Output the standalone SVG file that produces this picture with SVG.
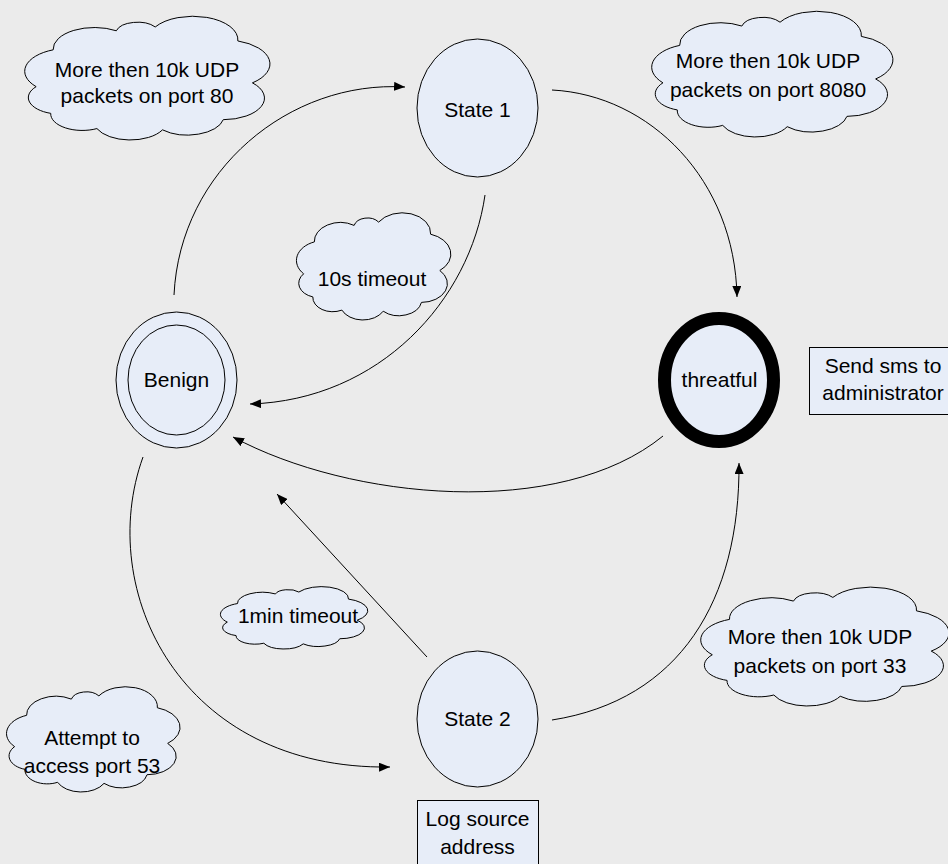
<svg xmlns="http://www.w3.org/2000/svg" xmlns:xlink="http://www.w3.org/1999/xlink" width="948" height="864" viewBox="0 0 948 864">
<style>
.bg{fill:#ebebeb}
.node{fill:#e7edf8;stroke:#000;stroke-width:1}
.thick{fill:#e7edf8;stroke:#000;stroke-width:13}
.box{fill:#e7edf8;stroke:#000;stroke-width:1}
.cloud{fill:#e7edf8;stroke:#000;stroke-width:1}
.cl{vector-effect:non-scaling-stroke}
.conn{fill:none;stroke:#000;stroke-width:1}
text{font-family:"Liberation Sans",Arial,sans-serif;font-size:21px;fill:#000;text-anchor:middle}
</style>
<defs>
<marker id="arr" markerUnits="userSpaceOnUse" markerWidth="11" markerHeight="9" refX="11" refY="4.5" orient="auto">
<path d="M0,0 L11,4.5 L0,9 Z" fill="#000"/>
</marker>
<path id="cloudShape" class="cl" d="M5,58 A18,18 0 0 1 12,29 A17,17 0 0 1 38,14 A9,9 0 0 1 54,11 A18.5,18.5 0 0 1 88,22 A19,19 0 0 1 94,55 A17,17 0 0 1 82,84 A15,15 0 0 1 57,92 A15,15 0 0 1 30,91 A13,13 0 0 1 11,79 A13,13 0 0 1 5,58 Z"/>
</defs>
<rect class="bg" x="0" y="0" width="948" height="864"/>

<g id="connectors">
<path class="conn" d="M174,295 C180,170 290,80 405,87" marker-end="url(#arr)"/>
<path class="conn" d="M552,90 C650,95 735,180 737,297" marker-end="url(#arr)"/>
<path class="conn" d="M485,195 C470,300 380,400 250,404" marker-end="url(#arr)"/>
<path class="conn" d="M663,436 C560,520 350,500 233,437" marker-end="url(#arr)"/>
<path class="conn" d="M427,657 L277,494" marker-end="url(#arr)"/>
<path class="conn" d="M143,457 C95,590 180,770 390,767" marker-end="url(#arr)"/>
<path class="conn" d="M552,720 C680,700 740,600 739,463" marker-end="url(#arr)"/>
</g>

<g id="state1">
<ellipse class="node" cx="477.5" cy="108" rx="60.5" ry="69"/>
<text x="477.5" y="117">State 1</text>
</g>
<g id="benign">
<ellipse class="node" cx="176.5" cy="380" rx="60.5" ry="68"/>
<ellipse class="node" cx="176.5" cy="380" rx="48.5" ry="55"/>
<text x="176.5" y="387">Benign</text>
</g>
<g id="threatful">
<ellipse class="thick" cx="719" cy="380" rx="54.5" ry="61.5"/>
<text x="719.5" y="387">threatful</text>
</g>
<g id="state2">
<ellipse class="node" cx="477.5" cy="719" rx="60.5" ry="68"/>
<text x="477.5" y="726">State 2</text>
</g>
<g id="sendsms">
<rect class="box" x="809.5" y="347.5" width="150" height="67"/>
<text x="883" y="373">Send sms to</text>
<text x="883" y="400">administrator</text>
</g>
<g id="logsource">
<rect class="box" x="417.5" y="800.5" width="121" height="80"/>
<text x="477.5" y="826">Log source</text>
<text x="477.5" y="854">address</text>
</g>

<g id="cloud-port80">
<use xlink:href="#cloudShape" class="cloud" transform="translate(24,13) scale(2.43,1.27)"/>
<text x="147" y="77">More then 10k UDP</text>
<text x="147" y="103">packets on port 80</text>
</g>
<g id="cloud-port8080">
<use xlink:href="#cloudShape" class="cloud" transform="translate(651,8) scale(2.39,1.29)"/>
<text x="768" y="68">More then 10k UDP</text>
<text x="768" y="97">packets on port 8080</text>
</g>
<g id="cloud-10s">
<use xlink:href="#cloudShape" class="cloud" transform="translate(296,210) scale(1.53,1.1)"/>
<text x="372" y="286">10s timeout</text>
</g>
<g id="cloud-1min">
<use xlink:href="#cloudShape" class="cloud" transform="translate(220,585) scale(1.46,0.64)"/>
<text x="298" y="623">1min timeout</text>
</g>
<g id="cloud-port53">
<use xlink:href="#cloudShape" class="cloud" transform="translate(6,684) scale(1.72,1.08)"/>
<text x="92" y="745">Attempt to</text>
<text x="92" y="773">access port 53</text>
</g>
<g id="cloud-port33">
<use xlink:href="#cloudShape" class="cloud" transform="translate(700,584) scale(2.46,1.22)"/>
<text x="820" y="644">More then 10k UDP</text>
<text x="820" y="673">packets on port 33</text>
</g>
</svg>
